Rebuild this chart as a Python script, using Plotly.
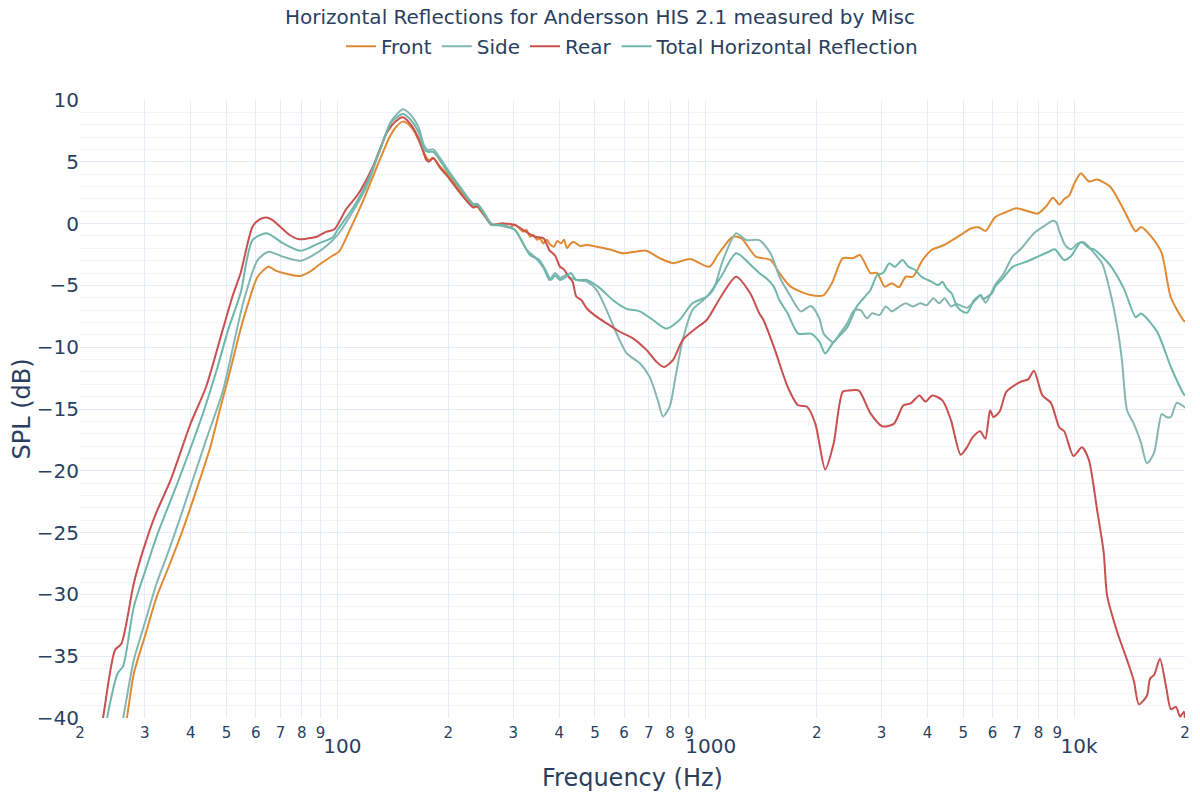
import plotly.graph_objects as go

# ---------------- data ----------------
front_freq = [25, 26.8, 28, 30, 32.3, 35, 38, 42, 45.2, 48, 51.2, 54.5, 56.9, 60.7, 65, 68, 71.2, 78.8, 84, 89,
              96, 101, 108, 117.6, 128, 138.7, 145, 150.7, 155, 160.6, 166, 174, 177, 182, 190, 198, 215, 234,
              238, 245, 250, 262, 280, 292, 303, 312, 319, 326, 333, 340, 348, 355, 362, 370, 378, 387, 395, 405,
              412, 420, 430, 440, 455, 475, 505, 550, 597, 650, 689, 750, 816, 906, 1022, 1080, 1184, 1250, 1368,
              1499, 1585, 1700, 1928, 2090, 2200, 2355, 2513, 2620, 2800, 2920, 3060, 3200, 3345, 3490, 3650, 3880,
              4100, 4440, 4920, 5260, 5500, 5750, 6100, 6500, 6970, 7500, 7960, 8400, 8760, 9120, 9400, 9690,
              10000, 10430, 10960, 11540, 12530, 13650, 14700, 15180, 16220, 17280, 18310, 19850, 20000]
front_spl = [-44.5, -40, -36.4, -33.4, -30.2, -27.6, -24.8, -21.0, -18.05, -15.0, -11.85, -8.6, -6.7, -4.3, -3.49,
             -3.8, -4.0, -4.24, -3.9, -3.35, -2.68, -2.27, -0.52, 1.9, 4.6, 7.03, 7.9, 8.25, 8.1, 7.57, 6.76, 5.4,
             5.15, 5.3, 4.6, 4.07, 2.7, 1.37, 1.5, 1.0, 0.7, -0.1, 0.0, -0.3, -0.1, -0.4, -0.65, -0.5, -1.06,
             -0.9, -1.3, -1.2, -1.6, -1.3, -1.7, -1.87, -1.4, -1.6, -1.3, -2.0, -1.6, -1.5, -1.8, -1.73, -1.87,
             -2.1, -2.4, -2.25, -2.19, -2.8, -3.2, -2.86, -3.49, -2.5, -1.06, -1.2, -2.68, -2.94, -4.0, -5.1,
             -5.78, -5.78, -4.83, -2.8, -2.8, -2.54, -4.0, -4.0, -5.1, -4.83, -5.15, -4.3, -4.3, -2.94, -2.14,
             -1.73, -0.92, -0.38, -0.3, -0.6, 0.52, 0.9, 1.25, 1.0, 0.81, 1.4, 2.1, 1.54, 2.0, 2.26, 3.2, 4.08,
             3.41, 3.56, 2.98, 1.1, -0.63, -0.28, -1.07, -2.37, -5.98, -7.86, -7.9]

side_freq = [24, 26.2, 28, 30, 32.3, 35, 38, 44, 48.9, 53.3, 55.7, 60.7, 65, 71.2, 79.5, 89, 97.2, 100.9, 110.7,
             120, 130.4, 140, 150.7, 158, 166, 172, 176, 182, 190, 198, 215, 234, 240, 250, 262, 280, 303, 327,
             343, 363, 376, 390, 402, 418, 430, 445, 475, 505, 538, 572, 610, 662, 704, 741, 765, 798, 831, 866,
             920, 983, 1047, 1114, 1209, 1287, 1397, 1499, 1585, 1700, 1810, 1930, 2033, 2090, 2220, 2300, 2420,
             2530, 2630, 2740, 2830, 2960, 3080, 3200, 3360, 3490, 3650, 3820, 3980, 4150, 4300, 4450, 4630, 4800,
             4970, 5130, 5350, 5580, 5750, 6100, 6420, 6810, 7150, 7780, 8290, 8760, 8950, 9120, 9480, 9800,
             10200, 10620, 11320, 11920, 12530, 13060, 13480, 13920, 14530, 15180, 15760, 16480, 17300, 17800,
             18300, 18990, 19850, 20000]
side_spl = [-46, -40, -35.3, -32.3, -29.1, -26.3, -23.2, -17.5, -13.5, -8.6, -6.2, -2.95, -2.27, -2.68, -3.0,
            -2.27, -1.33, -0.78, 1.1, 3.0, 5.95, 8.3, 9.25, 8.8, 7.8, 6.3, 5.95, 6.0, 5.3, 4.5, 3.0, 1.6, 1.6,
            0.9, 0.0, -0.2, -0.5, -2.14, -2.68, -3.6, -4.56, -4.0, -4.4, -4.15, -4.4, -4.56, -4.7, -5.37, -7.0,
            -8.88, -10.5, -11.3, -12.4, -14.3, -15.6, -14.8, -12.1, -9.4, -7.0, -6.2, -5.37, -2.94, -0.78, -1.33,
            -1.33, -2.4, -4.3, -5.9, -7.1, -6.67, -7.66, -8.9, -9.6, -9.0, -8.07, -7.0, -7.0, -7.66, -7.26, -7.4,
            -6.7, -7.1, -6.7, -6.45, -6.7, -6.45, -6.6, -6.04, -6.45, -6.04, -6.7, -6.5, -6.7, -6.8, -6.3, -5.8,
            -6.4, -4.97, -4.1, -2.65, -2.08, -0.78, -0.2, 0.23, 0.09, -0.63, -1.79, -2.08, -1.64, -1.5, -2.37,
            -3.24, -5.54, -8.15, -11.0, -15.1, -16.2, -17.7, -19.4, -18.55, -15.4, -15.65, -15.65, -14.5, -14.8,
            -14.9]

rear_freq = [21, 23.1, 24.9, 25.9, 28, 29.7, 32, 35.3, 39.9, 44, 48.8, 52, 54.6, 58.8, 61.5, 64.3, 66.5, 69.9,
             74, 78.8, 83, 87.9, 93.4, 98.1, 105.3, 114.2, 124.8, 135.9, 143, 150.5, 160, 168, 174, 177, 182, 190,
             198, 215, 234, 240, 250, 262, 280, 303, 319, 343, 363, 376, 390, 402, 412, 424, 435, 445, 460, 475,
             505, 538, 584, 634, 689, 734, 770, 816, 866, 940, 1006, 1100, 1209, 1320, 1397, 1434, 1530, 1668,
             1781, 1880, 1984, 2110, 2224, 2355, 2460, 2600, 2800, 3015, 3240, 3440, 3600, 3800, 3950, 4120,
             4390, 4630, 4920, 5130, 5300, 5556, 5740, 5914, 6040, 6280, 6550, 7150, 7500, 7780, 8200, 8650,
             9120, 9400, 9960, 10500, 10960, 11550, 12030, 12290, 13080, 13920, 14530, 14990, 15760, 16080,
             16500, 17100, 17800, 18310, 18900, 19400, 19850, 20000]
rear_spl = [-48, -40, -34.5, -34.0, -29.1, -26.4, -23.6, -20.7, -16.2, -13.2, -8.6, -5.8, -4.0, -0.25, 0.35,
            0.5, 0.3, -0.25, -0.9, -1.27, -1.2, -1.06, -0.65, -0.46, 1.1, 2.45, 4.6, 7.3, 8.2, 8.6, 7.8, 6.5,
            5.2, 5.0, 5.3, 4.5, 3.9, 2.5, 1.3, 1.4, 0.7, -0.1, 0.0, -0.1, -0.5, -1.06, -1.2, -2.14, -2.6, -3.49,
            -3.7, -4.3, -4.7, -5.9, -6.2, -6.85, -7.53, -8.07, -8.75, -9.28, -10.2, -11.17, -11.6, -11.0, -9.4,
            -8.47, -7.8, -5.9, -4.3, -5.64, -7.26, -7.8, -9.96, -13.2, -14.7, -14.8, -16.2, -19.9, -17.8, -13.6,
            -13.5, -13.5, -15.35, -16.4, -16.2, -14.7, -14.55, -13.9, -14.4, -13.9, -14.3, -15.9, -18.7, -18.05,
            -17.3, -16.8, -17.4, -15.1, -15.65, -15.2, -13.6, -12.8, -12.6, -11.9, -13.9, -14.5, -16.5, -16.8,
            -18.8, -18.1, -19.1, -23.2, -26.6, -30.1, -33.0, -35.3, -37.0, -38.9, -38.2, -36.8, -36.5, -35.2,
            -37.6, -39.3, -39.1, -39.9, -39.5, -40.5]

total_freq = [22.5, 23.7, 25.3, 26.2, 28, 30, 32.3, 37.1, 43.2, 47, 50.5, 54.6, 58.8, 64.3, 71.2, 79.5, 89,
              97.2, 100, 110.7, 120, 130.4, 140, 150.7, 158, 166, 172, 176, 182, 190, 198, 215, 234, 240, 250,
              262, 280, 303, 319, 333, 353, 367, 380, 390, 402, 418, 430, 445, 475, 515, 560, 610, 662, 719, 781,
              848, 920, 1006, 1100, 1209, 1340, 1397, 1470, 1530, 1585, 1668, 1781, 1930, 2033, 2110, 2220, 2420,
              2570, 2680, 2800, 2920, 3030, 3150, 3260, 3420, 3550, 3700, 3850, 4100, 4280, 4390, 4500, 4650,
              4810, 4970, 5130, 5350, 5580, 5650, 6000, 6100, 6420, 6810, 7400, 8000, 8500, 8850, 9400, 9800,
              10430, 11000, 11320, 12530, 13650, 14700, 15180, 16780, 18310, 19850, 20000]
total_spl = [-46, -40, -36.4, -35.8, -31, -28.2, -25.3, -20.7, -15.3, -11.85, -8.6, -5.6, -1.33, -0.78, -1.6,
             -2.2, -1.6, -1.1, -0.52, 1.37, 3.26, 5.95, 8.2, 8.87, 8.4, 7.4, 6.0, 5.8, 5.8, 5.1, 4.3, 2.9, 1.5,
             1.55, 0.8, -0.1, -0.1, -0.5, -1.6, -2.54, -2.94, -3.75, -4.56, -4.2, -4.56, -4.3, -4.0, -4.56, -4.56,
             -5.2, -6.2, -6.9, -7.1, -7.8, -8.5, -7.8, -6.45, -5.9, -4.3, -2.4, -3.49, -4.0, -4.5, -5.1, -6.2,
             -7.26, -8.9, -8.9, -9.55, -10.5, -9.6, -8.4, -6.7, -6.04, -5.37, -4.16, -4.0, -3.2, -3.49, -2.94,
             -3.49, -3.75, -4.3, -4.7, -4.97, -4.7, -5.23, -5.64, -6.7, -7.1, -7.2, -6.2, -5.78, -6.1, -5.6,
             -5.1, -4.4, -3.5, -3.1, -2.65, -2.3, -2.08, -2.94, -2.65, -1.5, -2.0, -2.08, -3.38, -5.26, -7.57,
             -7.28, -8.72, -11.6, -13.8, -13.9]

x_title = "Frequency (Hz)"
y_title = "SPL (dB)"
chart_title = "Horizontal Reflections for Andersson HIS 2.1 measured by Misc"

series = [
    ("Front", front_freq, front_spl, "#e08a33"),
    ("Side", side_freq, side_spl, "#84b6b2"),
    ("Rear", rear_freq, rear_spl, "#c8504f"),
    ("Total Horizontal Reflection", total_freq, total_spl, "#6fb6aa"),
]

FONT = "DejaVu Sans, Verdana, sans-serif"
TXT = "#2a3f5f"
GRID = "#e5ecf6"

fig = go.Figure()
for name, f, s, c in series:
    fig.add_trace(go.Scatter(x=f, y=s, name=name, mode="lines",
                             line=dict(color=c, width=2, shape="spline", smoothing=0.7)))

fig.update_layout(
    width=1184, height=784,
    paper_bgcolor="white", plot_bgcolor="white",
    font=dict(family=FONT, color=TXT, size=18),
    title=dict(text=chart_title, x=0.5, xanchor="center", y=0.989, yanchor="middle",
               font=dict(family=FONT, size=20, color=TXT)),
    legend=dict(orientation="h", x=0.5, xanchor="center", y=1.087, yanchor="middle",
                font=dict(family=FONT, size=20, color=TXT), bgcolor="rgba(0,0,0,0)"),
    margin=dict(l=72, r=7, t=92, b=74),
    showlegend=True,
)
fig.update_xaxes(
    type="log", range=[1.30103, 4.30103], dtick="D1",
    title=dict(text=x_title, font=dict(size=24, family=FONT, color=TXT), standoff=16),
    tickfont=dict(size=20, family=FONT, color=TXT), ticklabelstandoff=4,
    showgrid=True, gridcolor=GRID, gridwidth=1, zeroline=False, showline=False, ticks="",
    automargin=False,
)
fig.update_yaxes(
    range=[-40, 10], dtick=5, tick0=0,
    title=dict(text=y_title, font=dict(size=24, family=FONT, color=TXT)),
    tickfont=dict(size=20, family=FONT, color=TXT),
    showgrid=True, gridcolor=GRID, gridwidth=1, zeroline=False, showline=False, ticks="",
    minor=dict(dtick=1, showgrid=True, gridcolor="#f0f3f8", gridwidth=1),
    automargin=False,
)

fig.write_html("out.html")
